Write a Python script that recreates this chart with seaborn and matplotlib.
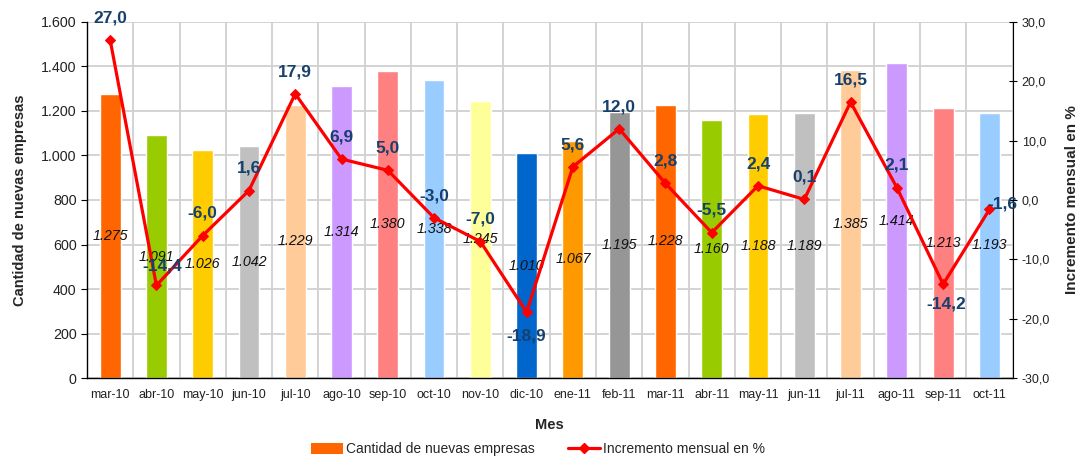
import numpy as np
import pandas as pd
import matplotlib
matplotlib.use("Agg")
import matplotlib.pyplot as plt
from matplotlib.patches import Patch
from matplotlib.lines import Line2D
from matplotlib.ticker import FixedLocator, FuncFormatter
import seaborn as sns

months = ["mar-10", "abr-10", "may-10", "jun-10", "jul-10", "ago-10", "sep-10", "oct-10",
          "nov-10", "dic-10", "ene-11", "feb-11", "mar-11", "abr-11", "may-11", "jun-11",
          "jul-11", "ago-11", "sep-11", "oct-11"]
empresas = [1275, 1091, 1026, 1042, 1229, 1314, 1380, 1338, 1245, 1010,
            1067, 1195, 1228, 1160, 1188, 1189, 1385, 1414, 1213, 1193]
incremento = [27.0, -14.4, -6.0, 1.6, 17.9, 6.9, 5.0, -3.0, -7.0, -18.9,
              5.6, 12.0, 2.8, -5.5, 2.4, 0.1, 16.5, 2.1, -14.2, -1.6]
bar_colors = ["#FF6600", "#99CC00", "#FFCC00", "#C0C0C0", "#FFCC99", "#CC99FF", "#FF8080", "#99CCFF",
              "#FFFF99", "#0066CC", "#FF9900", "#969696", "#FF6600", "#99CC00", "#FFCC00", "#C0C0C0",
              "#FFCC99", "#CC99FF", "#FF8080", "#99CCFF"]

# label offsets (points) for the percent labels, default is above the marker
label_offsets = {"dic-10": (0, -17), "sep-11": (2, -14), "oct-11": (9, 4), "abr-10": (4, 14)}

sns.set_style("white")
plt.rcParams["font.family"] = ["Liberation Sans", "DejaVu Sans"]

df = pd.DataFrame({"mes": months, "empresas": empresas, "incremento": incremento})
df["pos"] = np.arange(len(df))

fig = plt.figure(figsize=(10.82, 4.62), dpi=100)
ax = fig.add_axes([0.0804, 0.1818, 0.8554, 0.7706])

sns.barplot(data=df, x="mes", y="empresas", hue="mes", palette=bar_colors,
            width=0.45, legend=False, saturation=1, ax=ax, zorder=2)

ax.set_ylim(0, 1600)
ax.set_xlim(-0.5, len(months) - 0.5)
ax.set_yticks(np.arange(0, 1601, 200))
ax.yaxis.set_major_formatter(FuncFormatter(lambda v, p: f"{int(v):,}".replace(",", ".")))
ax.xaxis.set_minor_locator(FixedLocator(np.arange(-0.5, len(months), 1)))
ax.tick_params(axis="x", which="major", length=0, labelsize=9, pad=8, colors="#222222")
ax.tick_params(axis="x", which="minor", length=5, direction="out", color="black")
ax.tick_params(axis="y", length=4, direction="out", labelsize=10.3, colors="#222222", left=True)
ax.tick_params(axis="y", color="black")
ax.grid(axis="y", which="major", color="#D0D0D0", lw=1.3, zorder=0)
ax.grid(axis="x", which="minor", color="#D0D0D0", lw=1.3, zorder=0)
ax.set_axisbelow(True)
for s in ["top", "right"]:
    ax.spines[s].set_visible(False)
for s in ["left", "bottom"]:
    ax.spines[s].set_color("black")
    ax.spines[s].set_linewidth(1.0)

ax.set_xlabel("Mes", fontsize=10.5, fontweight="bold", labelpad=12)
ax.set_ylabel("Cantidad de nuevas empresas", fontsize=10.5, fontweight="bold", labelpad=10)

for cont, val in zip(ax.containers, empresas):
    ax.bar_label(cont, labels=[f"{val:,}".replace(",", ".")], label_type="center",
                 fontsize=10.3, fontstyle="italic", color="#111111")

ax2 = ax.twinx()
sns.lineplot(data=df, x="pos", y="incremento", color="#FF0000", lw=2.3,
             marker="D", markersize=5, markeredgecolor="#FF0000", ax=ax2)
ax2.set_ylim(-30, 30)
ax2.set_yticks(np.arange(-30, 31, 10))
ax2.yaxis.set_major_formatter(FuncFormatter(lambda v, p: f"{v:.1f}".replace(".", ",")))
ax2.tick_params(axis="y", length=6, direction="inout", labelsize=9, colors="#222222")
ax2.tick_params(axis="y", color="black")
ax2.set_ylabel("Incremento mensual en %", fontsize=11, fontweight="bold", labelpad=11)
for s in ["top", "left", "bottom"]:
    ax2.spines[s].set_visible(False)
ax2.spines["right"].set_color("black")
ax2.set_xlim(-0.5, len(months) - 0.5)

for m, x, y in zip(months, df["pos"], incremento):
    dx, dy = label_offsets.get(m, (0, 16))
    ax2.annotate(f"{y:.1f}".replace(".", ","), (x, y), xytext=(dx, dy),
                 textcoords="offset points", ha="center", va="center",
                 fontsize=12.5, fontweight="bold", color="#17406D")

handles = [Patch(facecolor="#FF6600", edgecolor="none"),
           Line2D([0], [0], color="#FF0000", lw=2.3, marker="D", markersize=5)]
fig.legend(handles, ["Cantidad de nuevas empresas", "Incremento mensual en %"],
           loc="center", bbox_to_anchor=(0.497, 0.028), ncol=2, frameon=False,
           fontsize=10, handlelength=2.3, handleheight=0.8, handletextpad=0.2,
           columnspacing=2.4)

fig.savefig("out.png", dpi=100)
